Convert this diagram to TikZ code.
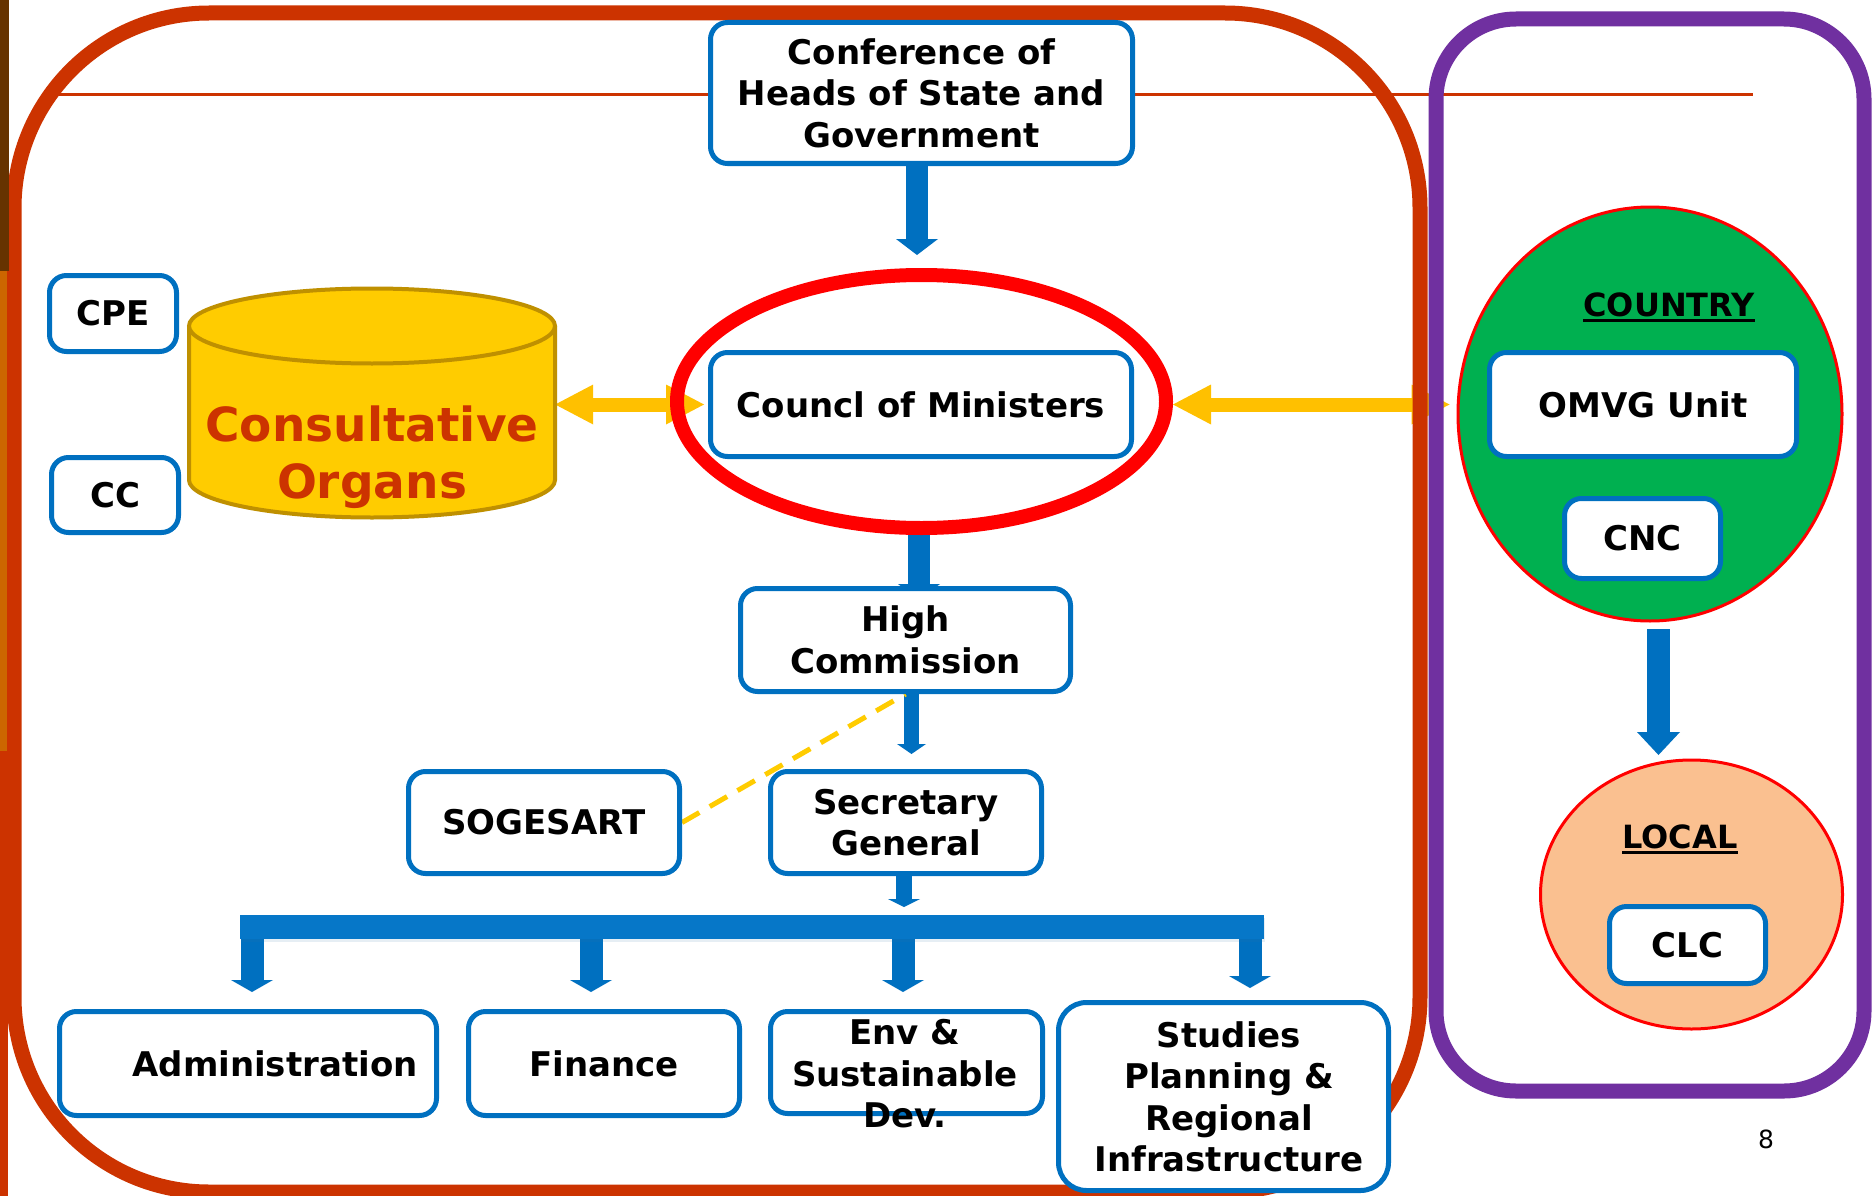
\documentclass[tikz,border=0pt]{standalone}
\usepackage{fontspec}
\setmainfont{DejaVu Sans}
\usetikzlibrary{arrows.meta,shapes.geometric,shadows}
\definecolor{fred}{HTML}{CC3300}
\definecolor{fpurple}{HTML}{7030A0}
\definecolor{fblue}{HTML}{0070C0}
\definecolor{fbar}{HTML}{0677C8}
\definecolor{fyel}{HTML}{FFC000}
\definecolor{fdash}{HTML}{FFCC00}
\definecolor{fcyl}{HTML}{FFCC00}
\definecolor{fcylb}{HTML}{BF9000}
\definecolor{fgreen}{HTML}{00B050}
\definecolor{fpeach}{HTML}{FAC090}
\definecolor{fbrown}{HTML}{663300}
\definecolor{forange}{HTML}{CC6600}
\pgfdeclarelayer{l0}\pgfdeclarelayer{l1}\pgfdeclarelayer{l2}
\pgfsetlayers{l0,l1,l2,main}
\begin{document}
\begin{tikzpicture}[x=1pt,y=-1pt,
  box/.style={draw=fblue, line width=5pt, fill=white, rounded corners=17pt,
    align=center, inner sep=0pt, font=\fontsize{34}{41.5}\selectfont\bfseries},
  boxtext/.style={align=center, inner sep=0pt, font=\fontsize{34}{41.5}\selectfont\bfseries},
  head/.style={inner sep=0pt, font=\fontsize{32}{38}\selectfont\bfseries},
  barrow/.style={draw=fblue},
  yarrow/.style={draw=fyel, line width=14pt,
    {Triangle[width=40pt,length=38pt,line width=0pt]}-{Triangle[width=40pt,length=38pt,line width=0pt]}},
  dashy/.style={draw=fdash, line width=5pt, dash pattern=on 20pt off 12pt}]
\useasboundingbox (0,0) rectangle (1874,1196);

% ---------- nodes ----------
% cylinder (drawn)
\fill[fcyl] (189,326) -- (189,480) arc[start angle=180,end angle=360,x radius=183pt,y radius=37.5pt] -- (555,326) -- cycle;
\draw[fcylb, line width=4pt] (189,326) -- (189,480) arc[start angle=180,end angle=360,x radius=183pt,y radius=37.5pt] -- (555,326);
\draw[fcylb, line width=4pt, fill=fcyl] (372,326) ellipse[x radius=183pt, y radius=37.5pt];
\node[minimum width=366pt, inner sep=0pt, align=center, text=fred,
  font=\fontsize{47}{57}\selectfont\bfseries] (cons) at (372,457) {Consultative\\Organs};

\node[box, minimum width=422pt, minimum height=141pt] (conf) at (921.5,93) {Conference of\\Heads of State and\\Government};
\node[draw=red, line width=14pt, ellipse, minimum width=489pt, minimum height=253pt, inner sep=0pt] (ell) at (921.5,401.5) {};
\node[box, minimum width=421pt, minimum height=104pt] (cbox) at (921,404.5) {Councl of Ministers};
\node[box, minimum width=127pt, minimum height=76pt] (cpe) at (113,313.5) {CPE};
\node[box, minimum width=127pt, minimum height=75pt] (cc) at (115,495) {CC};
\node[box, minimum width=330pt, minimum height=103pt] (hc) at (905.5,640) {High\\Commission};
\node[box, minimum width=271pt, minimum height=102pt] (sg) at (906,822.5) {Secretary\\General};
\node[box, minimum width=271pt, minimum height=102pt] (sog) at (544,822.5) {SOGESART};
\node[fill=fbar, minimum width=1024pt, minimum height=24pt, inner sep=0pt, outer sep=0pt,
  drop shadow={opacity=0.12, shadow xshift=1pt, shadow yshift=-3pt, fill=fblue!60!gray}] (bar) at (752,927) {};
\node[box, minimum width=377pt, minimum height=104pt] (admin) at (248,1063.5) {\hspace*{54pt}Administration};
\node[box, minimum width=271pt, minimum height=104pt] (fin) at (604,1063.5) {Finance};
\node[box, minimum width=272pt, minimum height=102pt] (env) at (906.5,1062.5) {};
\node[boxtext] (envt) at (905,1074) {Env \&\\Sustainable\\Dev.};
\node[box, minimum width=330pt, minimum height=188pt, rounded corners=28pt] (stu) at (1223.5,1096.5) {};
\node[boxtext] (stut) at (1229,1097) {Studies\\Planning \&\\Regional\\Infrastructure};

\node[ellipse, draw=red, line width=3pt, fill=fgreen, minimum width=384pt, minimum height=414pt, inner sep=0pt] (country) at (1650,414) {};
\node[head] (countryt) at (1669,305) {COUNTRY};
\draw[line width=3pt] ([yshift=-4pt]countryt.base west) -- ([yshift=-4pt]countryt.base east);
\node[box, minimum width=307pt, minimum height=104pt] (omvg) at (1643,404.5) {OMVG Unit};
\node[box, minimum width=156pt, minimum height=80pt] (cnc) at (1642.5,538.5) {CNC};
\node[ellipse, draw=red, line width=3pt, fill=fpeach, minimum width=302pt, minimum height=269pt, inner sep=0pt] (local) at (1691.5,894.5) {};
\node[head] (localt) at (1680,837) {LOCAL};
\draw[line width=3pt] ([yshift=-4pt]localt.base west) -- ([yshift=-4pt]localt.base east);
\node[box, minimum width=156pt, minimum height=77pt] (clc) at (1687.5,945) {CLC};

\node[inner sep=0pt, font=\fontsize{25}{30}\selectfont] (pg) at (1766,1139) {8};

% ---------- background layers ----------
\begin{pgfonlayer}{l0}
  \fill[white] (0,0) rectangle (1874,1196);
  \draw[fred, line width=3pt] (59,95) -- (1753,95);
  \draw[yarrow, shorten >=4pt] (cons.east |- cbox.west) -- (cbox.west);
  \draw[yarrow, shorten >=7pt] (ell.east |- cbox.east) -- (country.west |- cbox.east);
\end{pgfonlayer}
\begin{pgfonlayer}{l1}
  \draw[fred, line width=15pt, rounded corners=195pt] (14,13) rectangle (1420,1192);
  \draw[fpurple, line width=15pt, rounded corners=80pt] (1436,19) rectangle (1864,1091);
  \fill[fbrown] (0,0) rectangle (9,271);
  \fill[forange] (0,271) rectangle (7,751);
  \fill[fred] (0,751) rectangle (8,1196);
\end{pgfonlayer}
\begin{pgfonlayer}{l2}
  \draw[barrow, line width=22pt, -{Triangle[width=42pt,length=16pt,line width=0pt]}, shorten >=13pt]
    ([xshift=-4.5pt]conf.south) -- ([xshift=-4.5pt]ell.north);
  \draw[barrow, line width=22pt, -{Triangle[width=42pt,length=16pt,line width=0pt]}, shorten >=-14pt]
    ([xshift=-2.5pt]ell.south) -- ([xshift=13.5pt]hc.north);
  \draw[barrow, line width=15pt, -{Triangle[width=29pt,length=10pt,line width=0pt]}, shorten >=15pt]
    ([xshift=6pt]hc.south) -- ([xshift=5.5pt]sg.north);
  \draw[barrow, line width=16pt, -{Triangle[width=32pt,length=8pt,line width=0pt]}, shorten >=8pt]
    ([xshift=-2pt]sg.south) -- ([xshift=-2pt]sg.south |- bar.north);
  \coordinate (t1) at (252,939);
  \coordinate (t2) at (591,939);
  \coordinate (t3) at (903,939);
  \coordinate (t4) at (1250,939);
  \draw[barrow, line width=23pt, -{Triangle[width=42pt,length=12pt,line width=0pt]}, shorten >=17pt] (t1) -- (t1 |- admin.north);
  \draw[barrow, line width=23pt, -{Triangle[width=42pt,length=12pt,line width=0pt]}, shorten >=17pt] (t2) -- (t2 |- fin.north);
  \draw[barrow, line width=23pt, -{Triangle[width=42pt,length=12pt,line width=0pt]}, shorten >=17pt] (t3) -- (t3 |- env.north);
  \draw[barrow, line width=23pt, -{Triangle[width=42pt,length=12pt,line width=0pt]}, shorten >=12pt] (t4) -- (t4 |- stu.north);
  \draw[barrow, line width=23pt, -{Triangle[width=43pt,length=23pt,line width=0pt]}, shorten <=6.5pt, shorten >=3.5pt]
    ([xshift=8.5pt]country.south) -- ([xshift=-33pt]local.north);
  \draw[dashy] (sog.east) -- (hc.south);
\end{pgfonlayer}
\end{tikzpicture}
\end{document}
